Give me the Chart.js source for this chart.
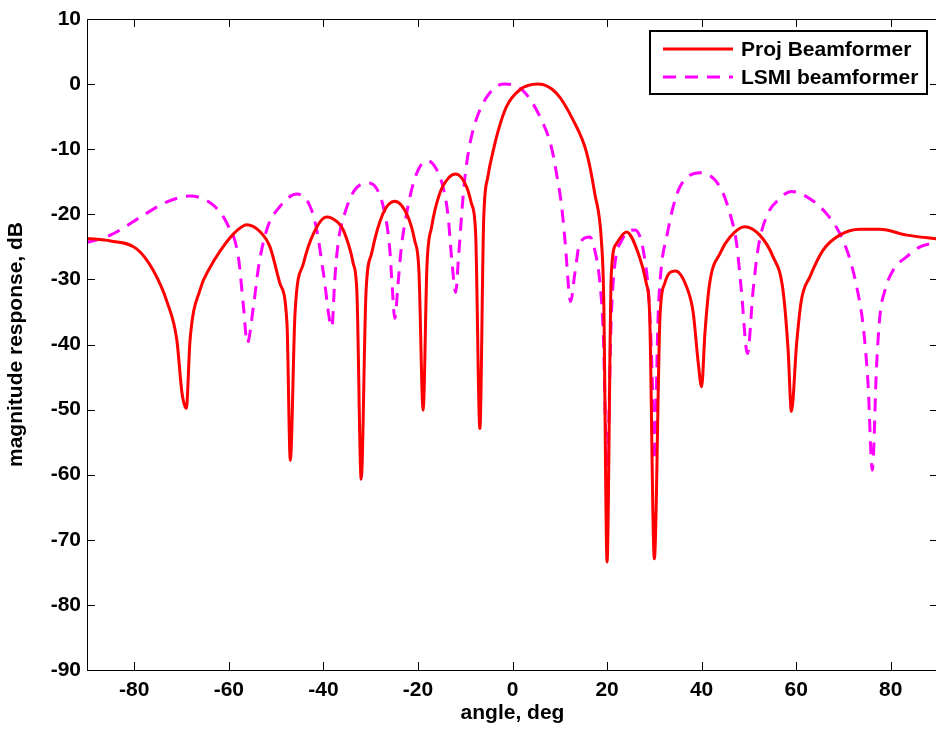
<!DOCTYPE html>
<html>
<head>
<meta charset="utf-8">
<script src="https://cdn.jsdelivr.net/npm/chart.js@4.4.1/dist/chart.umd.min.js"></script>
<style>
  html, body { margin: 0; padding: 0; background: #fff; overflow: hidden; }
  #wrap { width: 946px; height: 735px; }
</style>
</head>
<body>
<div id="wrap"><canvas id="chart" width="946" height="735"></canvas></div>
<script>
// angle (deg) / magnitude (dB)
const projAngles = [-90, -85, -79.5, -76, -73, -71, -69.9, -69, -68.2, -66.1, -64, -62, -59, -56.2, -53.5,
    -51.3, -49.2, -47.7, -47, -46, -44.2, -42, -39.3, -37, -35.8, -33.7, -32.9, -32, -31, -29.8,
    -27.4, -24.9, -22.1, -20.7, -19.8, -18.9, -18.1, -17.1, -15.4, -13.5, -12, -9.7, -8.7, -7.8,
    -6.9, -6.1, -5.2, -4.1, -3, -1.3, 1.5, 5.4, 9.3, 12.8, 15.7, 17.4, 18.8, 19.3, 20, 20.9, 22,
    24.1, 26.6, 28.3, 29, 30, 31.2, 32.2, 34.5, 36.8, 38.2, 39.3, 40, 40.7, 41.7, 43.9, 46, 49.1,
    52.3, 55.1, 57.2, 58.3, 59, 60.1, 61.1, 62.9, 65.7, 69.2, 73.5, 77.7, 83.4, 90];
const projDb = [-23.7, -24.1, -25.3, -28.6, -33.6, -39.3, -47.5, -49.8, -39.3, -31.6, -28.2, -25.8, -23, -21.6, -22.6,
    -25, -30.6, -36.8, -57.8, -35.2, -27.5, -22.8, -20.4, -21.2, -22.4, -27.5, -32.2, -60.7, -32.2, -26,
    -19.9, -18, -20.4, -24, -28.6, -50.1, -28, -21.9, -16.8, -14.4, -13.8, -15.8, -18.3, -22.9,
    -52.9, -20.9, -14.2, -10.3, -7.1, -3.5, -0.9, 0, -1.4, -5.5, -10.6, -16.8, -24, -33, -73.4, -29.1, -24.5,
    -22.7, -26, -30.6, -35.2, -72.9, -35.7, -30.6, -28.7, -31.1, -35, -42.9, -46.5, -38.3, -30.6, -26, -23.5, -21.9,
    -23.2, -26.5, -31.6, -40.9, -50.3, -39.8, -33.2, -29.6, -25.5, -23.2, -22.3, -22.3, -23.2, -23.8];

const lsmiAngles = [-90, -86, -83, -78, -73.1, -68.2, -63.3, -60.4, -58, -56.9, -56.1, -54.8, -53.7, -52, -49.2,
    -45.6, -42.8, -41.4, -40, -38.2, -37.6, -36.9, -35.5, -33.4, -30.5, -28.4, -27, -26, -25.4, -24.9,
    -24.2, -23.5, -22.4, -21, -19.6, -17.9, -16.4, -14.7, -13.6, -12.9, -12, -11.5, -11.1, -10.4, -9.7,
    -8.5, -6.6, -3.7, -1.6, 2.2, 5.8, 8.2, 9.3, 10.4, 11.1, 12.3, 13.2, 14.2, 16.4, 17.4, 18.5, 19.2, 20,
    20.9, 21.6, 23.1, 25.9, 28, 29, 29.7, 30, 30.8, 31.5, 32.6, 34, 35.4, 39.6, 43.9, 46, 47.4, 48.4,
    49.7, 50.9, 52, 53.7, 56.5, 59, 62.9, 66.4, 69.2, 71.4, 73.1, 74.2, 75.2, 76.1, 77, 77.7, 78.8,
    80.5, 83.4, 86.2, 90];
const lsmiDb = [-24.3, -23.5, -22.4, -20.1, -18.1, -17.2, -18.6, -21.4, -26.5, -34.2, -39.8, -34.2, -28, -22.4, -18.8,
    -16.9, -18.8, -22.4, -29, -37.3, -30.1, -24.5, -19.9, -16.3, -15.2, -16.5, -19.9, -25, -31.6, -36,
    -30.6, -25, -19.9, -15.3, -12.7, -11.8, -12.7, -15.8, -20.4, -26.5, -32, -27.5, -23.5, -16.8, -12.2,
    -7.5, -3.5, -0.5, 0, -1, -5, -9.6, -13.7, -18.8, -24, -33.4, -29, -24.5, -23.5, -25.5, -30.6, -38.3, -58.8,
    -35.7, -28, -24, -22.4, -27, -34.7, -48.5, -57.8, -35.7, -28, -23.5, -18.8, -15.8, -13.6, -15.8, -19.9, -24.5, -31.6,
    -41.4, -31.6, -25, -20.4, -17.6, -16.5, -17.6, -19.9, -22.9, -27, -32.2, -37.3, -46, -59.3, -43.4, -35.7, -31.6,
    -28.6, -26.5, -25, -24.3];

const xTicks = [-80, -60, -40, -20, 0, 20, 40, 60, 80];
const yTicks = [-90, -80, -70, -60, -50, -40, -30, -20, -10, 0, 10];
const seriesNames = ['Proj Beamformer', 'LSMI beamformer'];

const FONT = '"Liberation Sans", Arial, sans-serif';

function toPoints(xs, ys) {
    return xs.map((x, i) => ({ x: x, y: ys[i] }));
}

// MATLAB style box: inward ticks on all four sides, legend with a frame
const boxPlugin = {
    id: 'matlabBox',
    afterDraw(chart) {
        const { ctx, chartArea: a, scales } = chart;
        const tl = 8;
        ctx.save();
        ctx.strokeStyle = '#000';
        ctx.lineWidth = 1;
        ctx.beginPath();
        ctx.rect(a.left + 0.5, a.top + 0.5, a.right - a.left, a.bottom - a.top);
        xTicks.forEach(v => {
            const px = Math.round(scales.x.getPixelForValue(v)) + 0.5;
            ctx.moveTo(px, a.bottom); ctx.lineTo(px, a.bottom - tl);
            ctx.moveTo(px, a.top); ctx.lineTo(px, a.top + tl);
        });
        yTicks.forEach(v => {
            const py = Math.round(scales.y.getPixelForValue(v)) + 0.5;
            ctx.moveTo(a.left, py); ctx.lineTo(a.left + tl, py);
            ctx.moveTo(a.right, py); ctx.lineTo(a.right - tl, py);
        });
        ctx.stroke();

        // legend
        const lx = 650, ly = 31, lw = 277, lh = 63;
        ctx.fillStyle = '#fff';
        ctx.fillRect(lx, ly, lw, lh);
        ctx.lineWidth = 2;
        ctx.strokeRect(lx, ly, lw, lh);
        ctx.font = 'bold 21px ' + FONT;
        ctx.textBaseline = 'middle';
        ctx.textAlign = 'left';
        chart.data.datasets.forEach((ds, i) => {
            const yy = ly + 18 + i * 28;
            ctx.beginPath();
            ctx.strokeStyle = ds.borderColor;
            ctx.lineWidth = ds.borderWidth;
            ctx.setLineDash(ds.borderDash || []);
            ctx.moveTo(663, yy); ctx.lineTo(733, yy);
            ctx.stroke();
            ctx.setLineDash([]);
            ctx.fillStyle = '#000';
            ctx.fillText(ds.label, 741, yy + 1);
        });
        ctx.restore();
    }
};

new Chart(document.getElementById('chart'), {
    type: 'line',
    data: {
        datasets: [
            {
                label: seriesNames[0],
                data: toPoints(projAngles, projDb),
                borderColor: '#ff0000',
                borderWidth: 3,
                pointRadius: 0,
                cubicInterpolationMode: 'monotone',
                fill: false
            },
            {
                label: seriesNames[1],
                data: toPoints(lsmiAngles, lsmiDb),
                borderColor: '#ff00ff',
                borderWidth: 3,
                borderDash: [13, 9],
                pointRadius: 0,
                cubicInterpolationMode: 'monotone',
                fill: false
            }
        ]
    },
    options: {
        responsive: false,
        animation: false,
        layout: { padding: { left: 0, right: 8, top: 19, bottom: 0 } },
        plugins: {
            legend: { display: false },
            tooltip: { enabled: false }
        },
        scales: {
            x: {
                type: 'linear',
                min: -90,
                max: 90,
                afterBuildTicks: (s) => { s.ticks = xTicks.map(v => ({ value: v })); },
                afterFit: (s) => { s.height = 65; },
                grid: { display: false, drawTicks: false },
                border: { display: false },
                ticks: {
                    color: '#000',
                    padding: 8,
                    maxRotation: 0,
                    font: { family: FONT, size: 21, weight: 'bold' }
                },
                title: {
                    display: true,
                    text: 'angle, deg',
                    color: '#000',
                    padding: { top: 0, bottom: 9 },
                    font: { family: FONT, size: 21, weight: 'bold' }
                }
            },
            y: {
                min: -90,
                max: 10,
                afterBuildTicks: (s) => { s.ticks = yTicks.map(v => ({ value: v })); },
                afterFit: (s) => { s.width = 87; },
                grid: { display: false, drawTicks: false },
                border: { display: false },
                ticks: {
                    color: '#000',
                    padding: 6,
                    font: { family: FONT, size: 21, weight: 'bold' }
                },
                title: {
                    display: true,
                    text: 'magnitude response, dB',
                    color: '#000',
                    padding: { top: 4, bottom: 0 },
                    font: { family: FONT, size: 21, weight: 'bold' }
                }
            }
        }
    },
    plugins: [boxPlugin]
});
</script>
</body>
</html>
